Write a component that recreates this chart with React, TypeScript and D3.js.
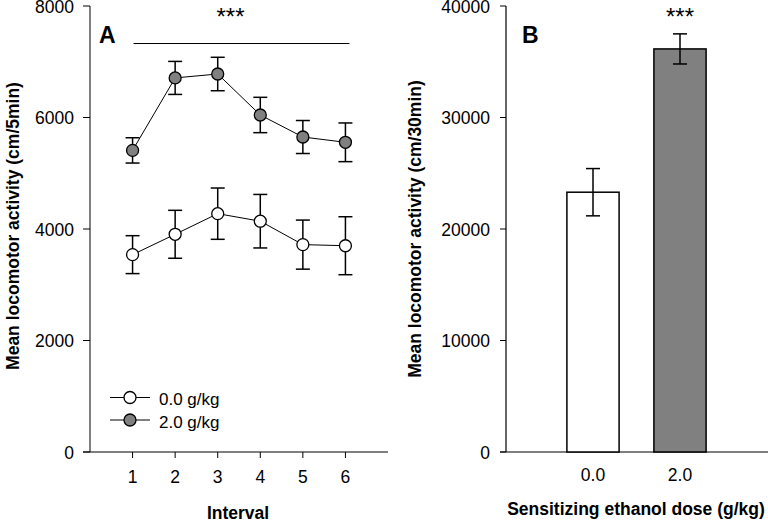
import { useEffect, useRef } from "react";
import * as d3 from "d3";

// Panel A: locomotor activity per 5-min interval
const intervals = [1, 2, 3, 4, 5, 6];
const controlMeans = [3540, 3905, 4275, 4140, 3720, 3700];
const controlSem = [340, 430, 460, 480, 440, 520];
const ethanolMeans = [5410, 6710, 6780, 6045, 5650, 5555];
const ethanolSem = [227, 296, 300, 317, 296, 347];
const seriesLabels = ["0.0 g/kg", "2.0 g/kg"];
const yTicksA = [0, 2000, 4000, 6000, 8000];

// Panel B: total activity over 30 min
const doses = ["0.0", "2.0"];
const totalMeans = [23300, 36150];
const totalSem = [2120, 1350];
const yTicksB = [0, 10000, 20000, 30000, 40000];

const GRAY = "#808080";
const FONT = "'Liberation Sans', Arial, sans-serif";

const App = () => {
  const svgRef = useRef<SVGSVGElement>(null);

  useEffect(() => {
    if (!svgRef.current) return;
    const svg = d3.select(svgRef.current);
    svg.selectAll("*").remove();
    svg.style("font-family", FONT);

    const top = 6;
    const bottom = 452;

    // ---------- Panel A ----------
    const xA = d3.scaleLinear().domain([0, 7]).range([90, 388]);
    const yA = d3.scaleLinear().domain([0, 8000]).range([bottom, top]);
    const gA = svg.append("g");

    // y axis (gray line)
    gA.append("line")
      .attr("x1", xA(0)).attr("x2", xA(0))
      .attr("y1", yA(8000)).attr("y2", yA(0))
      .attr("stroke", GRAY).attr("stroke-width", 2);
    gA.selectAll(".ytick")
      .data(yTicksA)
      .join("line")
      .attr("x1", xA(0) - 7).attr("x2", xA(0))
      .attr("y1", (d) => yA(d)).attr("y2", (d) => yA(d))
      .attr("stroke", "black");
    gA.selectAll(".ylab")
      .data(yTicksA)
      .join("text")
      .attr("x", xA(0) - 16)
      .attr("y", (d) => yA(d) + 6.5)
      .attr("text-anchor", "end")
      .style("font-size", "17.5px")
      .text((d) => d);

    // x axis
    gA.append("line")
      .attr("x1", xA(0) - 7).attr("x2", xA(7))
      .attr("y1", yA(0)).attr("y2", yA(0))
      .attr("stroke", "black").attr("stroke-width", 1.2);
    gA.selectAll(".xtick")
      .data(intervals)
      .join("line")
      .attr("x1", (d) => xA(d)).attr("x2", (d) => xA(d))
      .attr("y1", yA(0)).attr("y2", yA(0) + 6)
      .attr("stroke", "black");
    gA.selectAll(".xlab")
      .data(intervals)
      .join("text")
      .attr("x", (d) => xA(d))
      .attr("y", 483)
      .attr("text-anchor", "middle")
      .style("font-size", "17.5px")
      .text((d) => d);

    gA.append("text")
      .attr("x", xA(3.5) - 1)
      .attr("y", 519)
      .attr("text-anchor", "middle")
      .style("font-size", "17.5px")
      .style("font-weight", "bold")
      .text("Interval");

    gA.append("text")
      .attr("transform", `translate(19,226) rotate(-90)`)
      .attr("text-anchor", "middle")
      .style("font-size", "17.5px")
      .style("font-weight", "bold")
      .text("Mean locomotor activity (cm/5min)");

    gA.append("text")
      .attr("x", 99).attr("y", 43)
      .style("font-size", "23px")
      .style("font-weight", "bold")
      .text("A");

    // significance bar
    gA.append("line")
      .attr("x1", xA(1) + 1).attr("x2", xA(6) + 4)
      .attr("y1", 43.5).attr("y2", 43.5)
      .attr("stroke", "black");
    gA.append("text")
      .attr("x", xA(3.3)).attr("y", 25)
      .attr("text-anchor", "middle")
      .style("font-size", "24px")
      .text("***");

    const series = [
      { means: controlMeans, sem: controlSem, fill: "white" },
      { means: ethanolMeans, sem: ethanolSem, fill: GRAY },
    ];
    const line = d3
      .line<number>()
      .x((_, i) => xA(intervals[i]))
      .y((d) => yA(d));

    series.forEach((s) => {
      const g = gA.append("g");
      g.append("path")
        .attr("d", line(s.means))
        .attr("fill", "none")
        .attr("stroke", "black");
      const eb = g.selectAll(".eb")
        .data(s.means)
        .join("g");
      eb.append("line")
        .attr("x1", (_, i) => xA(intervals[i])).attr("x2", (_, i) => xA(intervals[i]))
        .attr("y1", (d, i) => yA(d + s.sem[i])).attr("y2", (d, i) => yA(d - s.sem[i]))
        .attr("stroke", "black").attr("stroke-width", 1.5);
      [1, -1].forEach((sign) => {
        eb.append("line")
          .attr("x1", (_, i) => xA(intervals[i]) - 7).attr("x2", (_, i) => xA(intervals[i]) + 7)
          .attr("y1", (d, i) => yA(d + sign * s.sem[i]))
          .attr("y2", (d, i) => yA(d + sign * s.sem[i]))
          .attr("stroke", "black").attr("stroke-width", 1.5);
      });
      eb.append("circle")
        .attr("cx", (_, i) => xA(intervals[i]))
        .attr("cy", (d) => yA(d))
        .attr("r", 6)
        .attr("fill", s.fill)
        .attr("stroke", "black")
        .attr("stroke-width", 1.3);
    });

    // legend
    const legend = gA.append("g");
    series.forEach((s, i) => {
      const ly = 397.5 + i * 22.5;
      legend.append("line")
        .attr("x1", 110).attr("x2", 150)
        .attr("y1", ly).attr("y2", ly)
        .attr("stroke", "black");
      legend.append("circle")
        .attr("cx", 130).attr("cy", ly).attr("r", 6)
        .attr("fill", s.fill).attr("stroke", "black").attr("stroke-width", 1.3);
      legend.append("text")
        .attr("x", 159).attr("y", ly + 7.5)
        .style("font-size", "17px")
        .text(seriesLabels[i]);
    });

    // ---------- Panel B ----------
    const xB = d3.scaleLinear().domain([0, 3]).range([506, 767]);
    const yB = d3.scaleLinear().domain([0, 40000]).range([bottom, top]);
    const gB = svg.append("g");
    const barW = xB(0.6) - xB(0);

    gB.append("line")
      .attr("x1", xB(0)).attr("x2", xB(0))
      .attr("y1", yB(40000)).attr("y2", yB(0))
      .attr("stroke", "black").attr("stroke-width", 1.2);
    gB.selectAll(".ytick")
      .data(yTicksB)
      .join("line")
      .attr("x1", xB(0) - 6).attr("x2", xB(0))
      .attr("y1", (d) => yB(d)).attr("y2", (d) => yB(d))
      .attr("stroke", "black");
    gB.selectAll(".ylab")
      .data(yTicksB)
      .join("text")
      .attr("x", xB(0) - 16)
      .attr("y", (d) => yB(d) + 6.5)
      .attr("text-anchor", "end")
      .style("font-size", "17.5px")
      .text((d) => d);

    gB.append("line")
      .attr("x1", xB(0) - 6).attr("x2", 768)
      .attr("y1", yB(0)).attr("y2", yB(0))
      .attr("stroke", "black").attr("stroke-width", 1.2);

    const bars = gB.selectAll(".bar")
      .data(totalMeans)
      .join("g");
    bars.append("rect")
      .attr("x", (_, i) => xB(i + 1) - barW / 2)
      .attr("y", (d) => yB(d))
      .attr("width", barW)
      .attr("height", (d) => yB(0) - yB(d))
      .attr("fill", (_, i) => (i === 0 ? "white" : GRAY))
      .attr("stroke", "black")
      .attr("stroke-width", 1.5);
    bars.append("line")
      .attr("x1", (_, i) => xB(i + 1)).attr("x2", (_, i) => xB(i + 1))
      .attr("y1", (d, i) => yB(d + totalSem[i])).attr("y2", (d, i) => yB(d - totalSem[i]))
      .attr("stroke", "black").attr("stroke-width", 1.5);
    [1, -1].forEach((sign) => {
      bars.append("line")
        .attr("x1", (_, i) => xB(i + 1) - 7).attr("x2", (_, i) => xB(i + 1) + 7)
        .attr("y1", (d, i) => yB(d + sign * totalSem[i]))
        .attr("y2", (d, i) => yB(d + sign * totalSem[i]))
        .attr("stroke", "black").attr("stroke-width", 1.5);
    });

    gB.selectAll(".xlab")
      .data(doses)
      .join("text")
      .attr("x", (_, i) => xB(i + 1))
      .attr("y", 481)
      .attr("text-anchor", "middle")
      .style("font-size", "17.5px")
      .text((d) => d);

    gB.append("text")
      .attr("x", 636).attr("y", 515)
      .attr("text-anchor", "middle")
      .style("font-size", "17.5px")
      .style("font-weight", "bold")
      .text("Sensitizing ethanol dose (g/kg)");

    gB.append("text")
      .attr("transform", `translate(421,229) rotate(-90)`)
      .attr("text-anchor", "middle")
      .style("font-size", "17.5px")
      .style("font-weight", "bold")
      .text("Mean locomotor activity (cm/30min)");

    gB.append("text")
      .attr("x", 522).attr("y", 43)
      .style("font-size", "23px")
      .style("font-weight", "bold")
      .text("B");

    gB.append("text")
      .attr("x", xB(2)).attr("y", 25)
      .attr("text-anchor", "middle")
      .style("font-size", "24px")
      .text("***");
  }, []);

  return (
    <svg
      ref={svgRef}
      width={768}
      height={522}
      style={{ position: "absolute", left: 0, top: 0, background: "white" }}
    ></svg>
  );
};

export default App;
